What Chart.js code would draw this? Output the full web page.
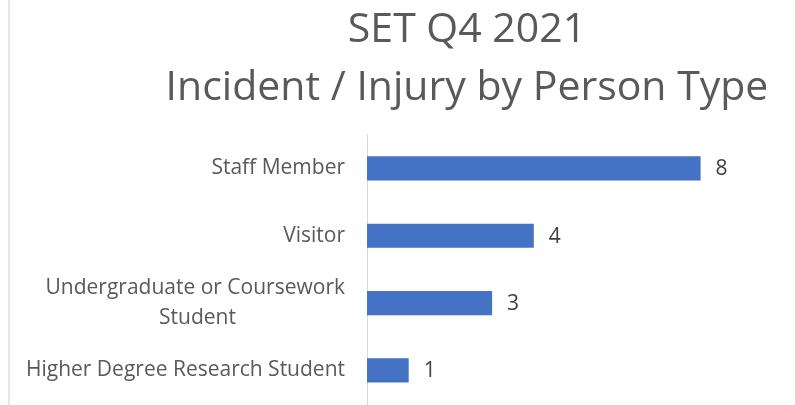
<!DOCTYPE html>
<html>
<head>
<meta charset="utf-8">
<script src="https://cdn.jsdelivr.net/npm/chart.js@4.4.1/dist/chart.umd.min.js"></script>
<style>
  body { margin: 0; background: #fff; }
  .wrap { position: absolute; left: 8px; top: 0; width: 785px; height: 405px; border-left: 2px solid #e6e6e6; }
</style>
</head>
<body>
<div class="wrap"><canvas id="chart" width="785" height="405"></canvas></div>
<script>
const titleLines = ["SET Q4 2021", "Incident / Injury by Person Type"];
const personTypes = [
  "Staff Member",
  "Visitor",
  ["Undergraduate or Coursework", "Student"],
  "Higher Degree Research Student"
];
const incidentCounts = [8, 4, 3, 1];

const tickFont = "21px 'Open Sans'";

// chart.js right-aligns every line of a wrapped label; pad the short ones so they sit centred like excel
const measureCtx = document.createElement("canvas").getContext("2d");
function centreLines(label) {
  if (!Array.isArray(label)) return label;
  measureCtx.font = tickFont;
  const widths = label.map(l => measureCtx.measureText(l).width);
  const widest = Math.max(...widths);
  const space = measureCtx.measureText(" ").width;
  return label.map((l, i) => l + " ".repeat(Math.round((widest - widths[i]) / 2 / space)));
}

// excel centres the title over the full chart, which is cropped on the right here
const titleShift = {
  id: "titleShift",
  afterLayout(chart) {
    chart.titleBlock.left = 130;
    chart.titleBlock.right = 784;
  }
};

// value labels at the end of each bar
const barLabels = {
  id: "barLabels",
  afterDatasetsDraw(chart) {
    const ctx = chart.ctx;
    const meta = chart.getDatasetMeta(0);
    ctx.save();
    ctx.font = tickFont;
    ctx.fillStyle = "#404040";
    ctx.textAlign = "left";
    ctx.textBaseline = "middle";
    meta.data.forEach((bar, i) => {
      ctx.fillText(String(incidentCounts[i]), bar.x + 15, bar.y + 1);
    });
    ctx.restore();
  }
};

new Chart(document.getElementById("chart"), {
  type: "bar",
  data: {
    labels: personTypes.map(centreLines),
    datasets: [{
      data: incidentCounts,
      backgroundColor: "#4472C4",
      borderWidth: 0,
      categoryPercentage: 1,
      barPercentage: 0.36
    }]
  },
  plugins: [titleShift, barLabels],
  options: {
    indexAxis: "y",
    responsive: false,
    animation: false,
    layout: { padding: { left: 0, right: 11, top: 0, bottom: 1 } },
    plugins: {
      legend: { display: false },
      tooltip: { enabled: false },
      title: {
        display: true,
        text: titleLines,
        color: "#595959",
        font: { family: "'Open Sans'", size: 41, weight: "normal", lineHeight: 1.4 },
        padding: { top: 2, bottom: 18 }
      }
    },
    scales: {
      x: {
        display: false,
        min: 0,
        max: 10
      },
      y: {
        afterFit(scale) {
          scale.width = 357;
          scale.paddingTop = 0;
          scale.paddingBottom = 0;
        },
        grid: { display: false, drawTicks: false },
        border: { display: true, color: "#d9d9d9", width: 1 },
        ticks: {
          color: "#595959",
          padding: 22,
          font: { family: "'Open Sans'", size: 21, lineHeight: 1.4 }
        }
      }
    }
  }
});
</script>
</body>
</html>
